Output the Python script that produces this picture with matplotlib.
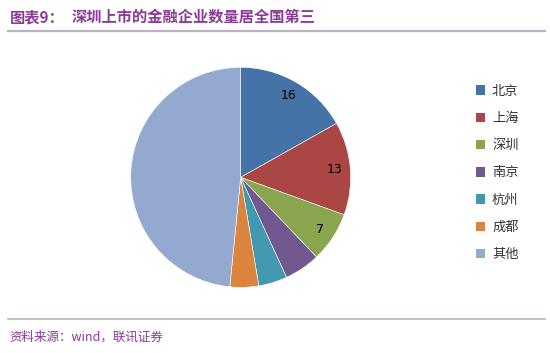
import matplotlib
matplotlib.use('Agg')
import matplotlib.pyplot as plt
from matplotlib.patches import Patch
from matplotlib.lines import Line2D

plt.rcParams['font.family'] = ['Noto Sans CJK SC', 'DejaVu Sans']

# Data
cities = ['北京', '上海', '深圳', '南京', '杭州', '成都', '其他']
counts = [16, 13, 7, 5, 4, 4, 46]
colors = ['#4572A7', '#AA4643', '#89A54E', '#71588F', '#4198AF', '#DB843D', '#93A9CF']

title_color = '#8B3A98'

fig = plt.figure(figsize=(5.5, 3.53), dpi=100)
fig.patch.set_facecolor('white')

# Title and rules
fig.text(0.018, 0.952, '图表9：', fontsize=11, fontweight='bold', color=title_color, va='center')
fig.text(0.13, 0.952, '深圳上市的金融企业数量居全国第三', fontsize=11, fontweight='bold',
         color=title_color, va='center')
fig.add_artist(Line2D([0.015, 0.99], [0.912, 0.912], color='#B9B3C2', linewidth=1.6))
fig.add_artist(Line2D([0.015, 0.99], [0.097, 0.097], color='#B9B3C2', linewidth=1.2))
fig.text(0.018, 0.045, '资料来源：wind，联讯证券', fontsize=9, style='italic',
         color=title_color, va='center')

# Pie
ax = fig.add_axes([0.2376, 0.186, 0.4, 0.6232])
total = sum(counts)


def show_value(pct):
    v = int(round(pct * total / 100.0))
    return str(v) if 7 <= v < 20 else ''


wedges, texts, autotexts = ax.pie(counts, colors=colors, startangle=90, counterclock=False,
                                  radius=1, autopct=show_value, pctdistance=0.86,
                                  wedgeprops=dict(linewidth=0.4, edgecolor='white'),
                                  textprops=dict(fontsize=9, color='black',
                                                 family=['DejaVu Sans']))
ax.set_xlim(-1, 1)
ax.set_ylim(-1, 1)
ax.set_aspect('equal')
ax.axis('off')

# Legend
handles = [Patch(facecolor=c, edgecolor='none') for c in colors]
fig.legend(handles, cities, loc='center left', bbox_to_anchor=(0.843, 0.51),
           frameon=False, fontsize=9.5, labelspacing=1.08, handlelength=0.75,
           handleheight=0.75, handletextpad=0.5, labelcolor='#333333')

fig.savefig('out.png', dpi=100)
